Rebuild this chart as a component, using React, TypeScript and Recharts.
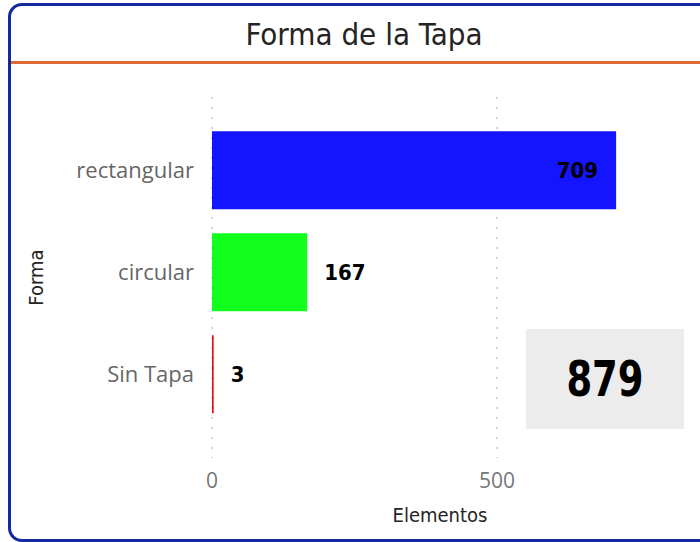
import React from 'react';
import { BarChart, Bar, XAxis, YAxis, CartesianGrid, Cell, LabelList } from 'recharts';

const categories = ['rectangular', 'circular', 'Sin Tapa'];
const counts = [709, 167, 3];
const xTicks = [0, 500];

const barColors = ['#1414ff', '#12ff1e', '#e8101a'];

const data = categories.map((forma, i) => ({ forma, elementos: counts[i] }));
const total = counts.reduce((a, b) => a + b, 0);

const titleFont = '"DejaVu Sans Condensed", "DejaVu Sans", sans-serif';
const bodyFont = '"Open Sans", "Noto Sans", sans-serif';

const ValueLabel = (props: any) => {
  const { x, y, width, height, value } = props;
  const inside = value > 400;
  return (
    <text
      x={inside ? x + width - 18 : x + width + 17}
      y={y + height / 2}
      textAnchor={inside ? 'end' : 'start'}
      dominantBaseline="central"
      fontFamily={titleFont}
      fontWeight="bold"
      fontSize={22}
      fill="#000"
    >
      {value}
    </text>
  );
};

const App = () => {
  return (
    <div style={{ position: 'fixed', left: 0, top: 0, width: 700, height: 542, background: '#fff', overflow: 'hidden' }}>
      <div
        style={{
          position: 'absolute',
          left: 8,
          top: 3,
          width: 700,
          height: 533,
          border: '3px solid #1428a0',
          borderRadius: 14,
        }}
      />
      <div
        style={{
          position: 'absolute',
          left: 0,
          top: 16,
          width: 728,
          textAlign: 'center',
          fontFamily: titleFont,
          fontSize: 31,
          color: '#252423',
        }}
      >
        Forma de la Tapa
      </div>
      <div style={{ position: 'absolute', left: 11, top: 61, width: 700, height: 3, background: '#e06a35' }} />

      <div style={{ position: 'absolute', left: 0, top: 0 }}>
        <BarChart
          width={700}
          height={542}
          data={data}
          layout="vertical"
          margin={{ top: 97, right: 32, left: 0, bottom: 24 }}
          barCategoryGap="12%"
        >
          <CartesianGrid horizontal={false} syncWithTicks stroke="#c8c8c8" strokeWidth={1.5} strokeDasharray="2 8" />
          <XAxis
            type="number"
            domain={[0, 800]}
            ticks={xTicks}
            height={60}
            axisLine={false}
            tickLine={false}
            tickMargin={9}
            tick={{ fill: '#777', fontSize: 21, fontFamily: bodyFont }}
            label={{
              value: 'Elementos',
              position: 'insideBottom',
              offset: -4,
              style: { fill: '#252423', fontSize: 20, fontFamily: titleFont },
            }}
          />
          <YAxis
            type="category"
            dataKey="forma"
            width={212}
            axisLine={false}
            tickLine={false}
            tickMargin={12}
            padding={{ top: 22, bottom: 33 }}
            tick={{ fill: '#666', fontSize: 22, fontFamily: bodyFont }}
            label={{
              value: 'Forma',
              angle: -90,
              position: 'insideLeft',
              offset: 36,
              style: { textAnchor: 'middle', fill: '#252423', fontSize: 20, fontFamily: titleFont },
            }}
          />
          <Bar dataKey="elementos" isAnimationActive={false}>
            {data.map((d, i) => (
              <Cell key={d.forma} fill={barColors[i]} />
            ))}
            <LabelList dataKey="elementos" content={ValueLabel} />
          </Bar>
        </BarChart>
      </div>

      <div
        style={{
          position: 'absolute',
          left: 526,
          top: 329,
          width: 158,
          height: 100,
          background: '#ececec',
          display: 'flex',
          alignItems: 'center',
          justifyContent: 'center',
          fontFamily: titleFont,
          fontWeight: 'bold',
          fontSize: 50,
          color: '#000',
        }}
      >
        <span style={{ display: 'inline-block', transform: 'scaleX(0.82)' }}>{total}</span>
      </div>
    </div>
  );
};

export default App;
